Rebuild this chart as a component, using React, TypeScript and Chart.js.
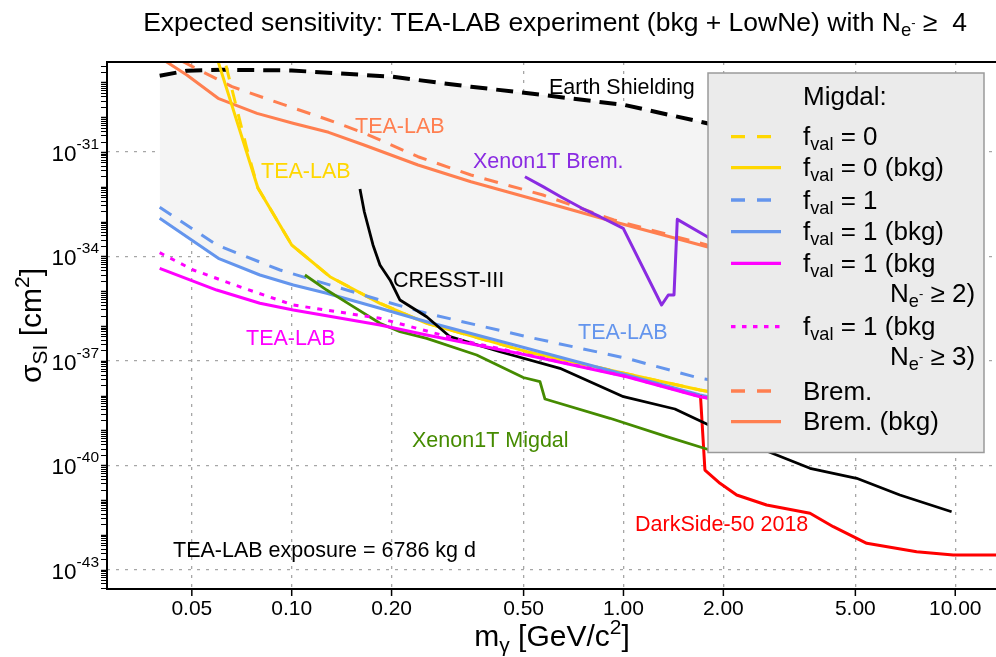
import React, { useEffect, useRef } from "react";
import { Chart, registerables } from "chart.js";
Chart.register(...registerables);

// ---------- axis ranges & ticks ----------
const X_MIN = 0.02775;
const X_MAX = 13.27;
const Y_MIN = 2.773e-44;
const Y_MAX = 3.855e-29;
const xTickValues = [0.05, 0.1, 0.2, 0.5, 1, 2, 5, 10];
const xTickLabels = ["0.05", "0.10", "0.20", "0.50", "1.00", "2.00", "5.00", "10.00"];
const yTickExponents = [-43, -40, -37, -34, -31];

// ---------- series ----------
const earthX = [0.04, 0.0484, 0.062, 0.1, 0.2, 0.347, 0.572, 1.01, 1.785, 3, 5, 9];
const earthY = [1.56e-29, 2.17e-29, 2.3e-29, 2.2e-29, 1.46e-29, 7.5e-30, 4.35e-30, 2.24e-30, 6.7e-31, 2e-31, 6e-32, 1.5e-32];

const bremBkgX = [0.04, 0.0483, 0.06, 0.0786, 0.1009, 0.1292, 0.1652, 0.2403, 0.347, 0.4456, 0.572, 0.936, 1.785, 2.0];
const bremBkgY = [5.2e-29, 1.63e-29, 3.49e-30, 1.29e-30, 6.68e-31, 3.68e-31, 1.59e-31, 4.23e-32, 1.4e-32, 7.23e-33, 3.73e-33, 9.93e-34, 1.9e-34, 1.5e-34];

const bremX = [0.04, 0.048, 0.0661, 0.089, 0.1292, 0.1652, 0.2403, 0.347, 0.572, 0.936, 1.785, 2.0];
const bremY = [8.6e-29, 3.54e-29, 7.52e-30, 2.79e-30, 8.32e-31, 3.52e-31, 7.32e-32, 2.18e-32, 5.81e-33, 1.11e-33, 2.13e-34, 1.65e-34];

const f0BkgX = [0.0575, 0.0791, 0.1, 0.1304, 0.1845, 0.2551, 0.5107, 1.701, 2.0];
const f0BkgY = [1.45e-28, 9.25e-33, 2.13e-34, 2.61e-35, 4.49e-36, 1.2e-36, 1.83e-37, 1.45e-38, 1.1e-38];

const f0X = [0.06, 0.063, 0.0732, 0.0791, 0.1, 0.1304, 0.1845, 0.2551, 0.5107, 1.701, 2.0];
const f0Y = [1.45e-28, 3.8e-29, 1.28e-31, 9.25e-33, 2.13e-34, 2.61e-35, 4.49e-36, 1.2e-36, 1.83e-37, 1.45e-38, 1.1e-38];

const f1X = [0.04, 0.0594, 0.0922, 0.1845, 0.2551, 0.5107, 1.022, 1.701, 2.0];
const f1Y = [2.58e-33, 2.13e-34, 4.07e-35, 5.58e-36, 2.32e-36, 4.93e-37, 1.18e-37, 3.14e-38, 2.5e-38];

const f1BkgX = [0.04, 0.0601, 0.0802, 0.1011, 0.1275, 0.1845, 0.2551, 0.5107, 1.022, 1.701, 2.0];
const f1BkgY = [1.25e-33, 8.81e-35, 2.92e-35, 1.51e-35, 8.7e-36, 3.23e-36, 1.33e-36, 2.29e-37, 3.91e-38, 1.04e-38, 7.5e-39];

const f1Ne2X = [0.04, 0.0594, 0.0802, 0.1011, 0.1845, 0.2551, 0.5107, 1.022, 1.701, 2.0];
const f1Ne2Y = [4.55e-35, 1.08e-35, 4.49e-36, 2.88e-36, 1.07e-36, 5.51e-37, 1.47e-37, 3.49e-38, 9.29e-39, 7e-39];

const f1Ne3X = [0.04, 0.0505, 0.0696, 0.1011, 0.1845, 0.3215, 0.5107, 1.022, 1.701, 2.0];
const f1Ne3Y = [1.28e-34, 4.07e-35, 1.35e-35, 4.01e-36, 1.66e-36, 3.96e-37, 1.5e-37, 3.55e-38, 9.4e-39, 7.1e-39];

const xenonMigdalX = [0.1096, 0.1275, 0.1533, 0.1845, 0.212, 0.2551, 0.361, 0.499, 0.5602, 0.58, 0.9106, 1.35, 1.781, 1.85];
const xenonMigdalY = [2.92e-35, 1.08e-35, 3.59e-36, 1.2e-36, 6.86e-37, 4.43e-37, 1.47e-37, 3.31e-38, 2.51e-38, 7.98e-39, 2.23e-39, 6.6e-40, 2.92e-40, 2.6e-40];

const cresstX = [0.1606, 0.1655, 0.1758, 0.1845, 0.1978, 0.212, 0.2551, 0.3, 0.4244, 0.6435, 1.0, 1.429, 1.782, 2.7, 3.65, 5.045, 6.81, 9.75];
const cresstY = [8.65e-33, 1.92e-33, 2.13e-34, 5.66e-35, 2.1e-35, 5.58e-36, 1.85e-36, 4.93e-37, 1.82e-37, 6.08e-38, 9.29e-39, 4.12e-39, 1.53e-39, 2.56e-40, 8.15e-41, 4.21e-41, 1.39e-41, 4.61e-42];

const darksideX = [1.706, 1.76, 1.954, 2.194, 2.7, 3.65, 4.29, 5.41, 7.65, 9.86, 14];
const darksideY = [1.04e-38, 7.28e-41, 3.02e-41, 1.39e-41, 7.18e-42, 4.15e-42, 1.71e-42, 5.7e-43, 3.27e-43, 2.63e-43, 2.63e-43];

const xenonBremX = [0.5047, 0.572, 0.6467, 0.7497, 0.8495, 0.9986, 1.303, 1.365, 1.42, 1.453, 1.8, 1.95];
const xenonBremY = [1.95e-32, 1.01e-32, 5.2e-33, 2.41e-33, 1.38e-33, 6.42e-34, 4.01e-36, 7.78e-36, 7.78e-36, 1.16e-33, 3.54e-34, 2e-34];

// ---------- text ----------
const TITLE_MAIN = "Expected sensitivity: TEA-LAB experiment (bkg + LowNe) with N";
const EXPOSURE_TEXT = "TEA-LAB exposure = 6786 kg d";
const LEGEND_TITLE = "Migdal:";

const YELLOW = "#FFD700";
const BLUE = "#6495ED";
const MAGENTA = "#FF00FF";
const ORANGE = "#FF7F50";
const PURPLE = "#8A2BE2";
const GREEN = "#458B00";
const RED = "#FF0000";
const SHADE = "#f4f4f4";
const FONT = "'Liberation Sans', Arial, Helvetica, sans-serif";

type Seg = { t: string; s: number; dy?: number };

function richWidth(ctx: CanvasRenderingContext2D, segs: Seg[]) {
  let w = 0;
  for (const g of segs) {
    ctx.font = `${g.s}px ${FONT}`;
    w += ctx.measureText(g.t).width;
  }
  return w;
}
function drawRich(ctx: CanvasRenderingContext2D, segs: Seg[], x: number, y: number) {
  let cx = x;
  for (const g of segs) {
    ctx.font = `${g.s}px ${FONT}`;
    ctx.fillText(g.t, cx, y + (g.dy || 0));
    cx += ctx.measureText(g.t).width;
  }
  return cx - x;
}

const zip = (xs: number[], ys: number[]) => xs.map((x, i) => ({ x, y: ys[i] }));

export default function App() {
  const ref = useRef<HTMLCanvasElement>(null);
  useEffect(() => {
    const canvas = ref.current!;
    const base: any = { pointRadius: 0, borderWidth: 3, tension: 0, fill: false, clip: 0, borderCapStyle: "butt", borderJoinStyle: "round" };
    const datasets: any[] = [
      { ...base, label: "f1Ne2", data: zip(f1Ne2X, f1Ne2Y), borderColor: MAGENTA },
      { ...base, label: "f1Ne3", data: zip(f1Ne3X, f1Ne3Y), borderColor: MAGENTA, borderDash: [5, 7] },
      { ...base, label: "CRESST-III", data: zip(cresstX, cresstY), borderColor: "#000", borderWidth: 2.8 },
      { ...base, label: "Xenon1T Migdal", data: zip(xenonMigdalX, xenonMigdalY), borderColor: GREEN, borderWidth: 2.8 },
      { ...base, label: "DarkSide-50", data: zip(darksideX, darksideY), borderColor: RED },
      { ...base, label: "Xenon1T Brem", data: zip(xenonBremX, xenonBremY), borderColor: PURPLE },
      { ...base, label: "f1Bkg", data: zip(f1BkgX, f1BkgY), borderColor: BLUE },
      { ...base, label: "f1", data: zip(f1X, f1Y), borderColor: BLUE, borderDash: [14, 11] },
      { ...base, label: "f0Bkg", data: zip(f0BkgX, f0BkgY), borderColor: YELLOW },
      { ...base, label: "f0", data: zip(f0X, f0Y), borderColor: YELLOW, borderDash: [14, 11] },
      { ...base, label: "bremBkg", data: zip(bremBkgX, bremBkgY), borderColor: ORANGE },
      { ...base, label: "brem", data: zip(bremX, bremY), borderColor: ORANGE, borderDash: [14, 11] },
      { ...base, label: "Earth", data: zip(earthX, earthY), borderColor: "#000", borderWidth: 4, borderDash: [17, 9] },
      { ...base, label: "shade", data: zip(earthX, earthY), borderColor: "rgba(0,0,0,0)", borderWidth: 1, backgroundColor: SHADE, fill: 6 },
    ];

    const overlay = {
      id: "overlay",
      afterDraw(chart: any) {
        const ctx: CanvasRenderingContext2D = chart.ctx;
        const xs = chart.scales.x;
        const ys = chart.scales.y;
        const { left, top, bottom } = chart.chartArea;
        ctx.save();
        ctx.fillStyle = "#000";
        ctx.strokeStyle = "#000";
        ctx.textBaseline = "alphabetic";
        ctx.textAlign = "left";

        // annotations
        const ann: [string, string, number, number][] = [
          ["Earth Shielding", "#000", 549, 94],
          ["TEA-LAB", ORANGE, 355, 133],
          ["TEA-LAB", YELLOW, 261, 178],
          ["Xenon1T Brem.", PURPLE, 473, 168],
          ["CRESST-III", "#000", 393, 286.5],
          ["TEA-LAB", MAGENTA, 246, 345],
          ["TEA-LAB", BLUE, 578, 339],
          ["Xenon1T Migdal", GREEN, 412, 447],
          ["DarkSide-50 2018", RED, 635, 531],
          [EXPOSURE_TEXT, "#000", 173, 557],
        ];
        ctx.font = `21.5px ${FONT}`;
        for (const [t, c, x, y] of ann) {
          ctx.fillStyle = c;
          ctx.fillText(t, x, y);
        }
        ctx.fillStyle = "#000";

        // frame
        ctx.lineWidth = 2;
        ctx.setLineDash([]);
        ctx.strokeRect(left, top, 1010 - left, bottom - top);

        // y ticks (major + minor)
        for (let d = -45; d <= -28; d++) {
          for (let k = 1; k <= 9; k++) {
            const v = k * Math.pow(10, d);
            if (v < Y_MIN || v > Y_MAX) continue;
            const py = Math.round(ys.getPixelForValue(v)) + 0.5;
            ctx.lineWidth = k === 1 ? 1.5 : 1;
            ctx.beginPath();
            ctx.moveTo(left - 6, py);
            ctx.lineTo(left, py);
            ctx.stroke();
          }
        }
        // x ticks
        ctx.lineWidth = 1.5;
        for (const v of xTickValues) {
          const px = xs.getPixelForValue(v);
          ctx.beginPath();
          ctx.moveTo(px, bottom);
          ctx.lineTo(px, bottom + 7);
          ctx.stroke();
        }
        // x tick labels
        ctx.font = `21px ${FONT}`;
        ctx.textAlign = "center";
        xTickValues.forEach((v, i) => {
          ctx.fillText(xTickLabels[i], xs.getPixelForValue(v), bottom + 26);
        });
        ctx.textAlign = "left";
        // y tick labels
        for (const e of yTickExponents) {
          const py = ys.getPixelForValue(Math.pow(10, e));
          const segs: Seg[] = [
            { t: "10", s: 22.5, dy: 9 },
            { t: String(e), s: 15.5, dy: -3 },
          ];
          const w = richWidth(ctx, segs);
          drawRich(ctx, segs, left - 8 - w, py);
        }
        // axis titles
        const xt: Seg[] = [
          { t: "m", s: 30 },
          { t: "γ", s: 21, dy: 6 },
          { t: " [GeV/c", s: 30 },
          { t: "2", s: 21, dy: -12 },
          { t: "]", s: 30 },
        ];
        drawRich(ctx, xt, 552 - richWidth(ctx, xt) / 2, 646);
        const yt: Seg[] = [
          { t: "σ", s: 30 },
          { t: "SI", s: 21, dy: 6 },
          { t: " [cm", s: 30 },
          { t: "2", s: 21, dy: -12 },
          { t: "]", s: 30 },
        ];
        ctx.save();
        ctx.translate(41, (top + bottom) / 2);
        ctx.rotate(-Math.PI / 2);
        drawRich(ctx, yt, -richWidth(ctx, yt) / 2, 0);
        ctx.restore();
        // title
        const tt: Seg[] = [
          { t: TITLE_MAIN, s: 26.5 },
          { t: "e", s: 18.5, dy: 5 },
          { t: "-", s: 13, dy: -4 },
          { t: " ≥  4", s: 26.5 },
        ];
        drawRich(ctx, tt, 555 - richWidth(ctx, tt) / 2, 31);

        // legend
        const L = { x: 708, y: 73, w: 276, h: 379.5 };
        ctx.fillStyle = "#ebebeb";
        ctx.fillRect(L.x, L.y, L.w, L.h);
        ctx.strokeStyle = "#9a9a9a";
        ctx.lineWidth = 1.5;
        ctx.strokeRect(L.x, L.y, L.w, L.h);
        ctx.fillStyle = "#000";
        ctx.font = `26px ${FONT}`;
        ctx.fillText(LEGEND_TITLE, 803, 105);
        const fv = (rest: string): Seg[] => [
          { t: "f", s: 26 },
          { t: "val", s: 18.2, dy: 5 },
          { t: " = " + rest, s: 26 },
        ];
        const ne = (n: string): Seg[] => [
          { t: "N", s: 26 },
          { t: "e", s: 18.2, dy: 5 },
          { t: "-", s: 13, dy: -4 },
          { t: " ≥ " + n + ")", s: 26 },
        ];
        const items: { c: string; dash: number[]; y: number; segs: Seg[]; second?: Seg[] }[] = [
          { c: YELLOW, dash: [14, 12], y: 136.7, segs: fv("0") },
          { c: YELLOW, dash: [], y: 167.7, segs: fv("0 (bkg)") },
          { c: BLUE, dash: [14, 12], y: 200, segs: fv("1") },
          { c: BLUE, dash: [], y: 231.7, segs: fv("1 (bkg)") },
          { c: MAGENTA, dash: [], y: 263.3, segs: fv("1 (bkg"), second: ne("2") },
          { c: MAGENTA, dash: [4.5, 6.5], y: 326.7, segs: fv("1 (bkg"), second: ne("3") },
          { c: ORANGE, dash: [14, 12], y: 391, segs: [{ t: "Brem.", s: 26 }] },
          { c: ORANGE, dash: [], y: 421.7, segs: [{ t: "Brem. (bkg)", s: 26 }] },
        ];
        for (const it of items) {
          ctx.strokeStyle = it.c;
          ctx.lineWidth = 3.3;
          ctx.setLineDash(it.dash);
          ctx.beginPath();
          ctx.moveTo(731, it.y);
          ctx.lineTo(781, it.y);
          ctx.stroke();
          ctx.setLineDash([]);
          ctx.fillStyle = "#000";
          drawRich(ctx, it.segs, 803, it.y + 8.5);
          if (it.second) drawRich(ctx, it.second, 890, it.y + 38.4);
        }
        ctx.restore();
      },
    };

    const chart = new Chart(canvas, {
      type: "line",
      data: { datasets },
      options: {
        responsive: false,
        animation: false,
        devicePixelRatio: 1,
        events: [],
        layout: { padding: { top: 62, right: 0, left: 0, bottom: 0 } },
        plugins: {
          legend: { display: false },
          title: { display: false },
          tooltip: { enabled: false },
          filler: { drawTime: "beforeDatasetsDraw" },
        },
        scales: {
          x: {
            type: "logarithmic",
            min: X_MIN,
            max: X_MAX,
            bounds: "data",
            afterBuildTicks: (s: any) => {
              s.ticks = xTickValues.map((v) => ({ value: v }));
            },
            afterFit: (s: any) => {
              s.height = 68;
            },
            ticks: { display: false, autoSkip: false },
            grid: { display: true, drawTicks: false, color: "#a6a6a6", lineWidth: 1.3 },
            border: { display: false, dash: [3, 6] },
          },
          y: {
            type: "logarithmic",
            min: Y_MIN,
            max: Y_MAX,
            bounds: "data",
            afterBuildTicks: (s: any) => {
              s.ticks = yTickExponents.map((e) => ({ value: Math.pow(10, e) }));
            },
            afterFit: (s: any) => {
              s.width = 107;
            },
            ticks: { display: false, autoSkip: false },
            grid: { display: true, drawTicks: false, color: "#a6a6a6", lineWidth: 1.3 },
            border: { display: false, dash: [3, 6] },
          },
        },
      } as any,
      plugins: [overlay],
    });
    return () => chart.destroy();
  }, []);
  return (
    <div style={{ position: "absolute", left: 0, top: 0, width: 996, height: 657, background: "#fff" }}>
      <canvas ref={ref} width={996} height={657} style={{ display: "block", width: 996, height: 657 }} />
    </div>
  );
}
